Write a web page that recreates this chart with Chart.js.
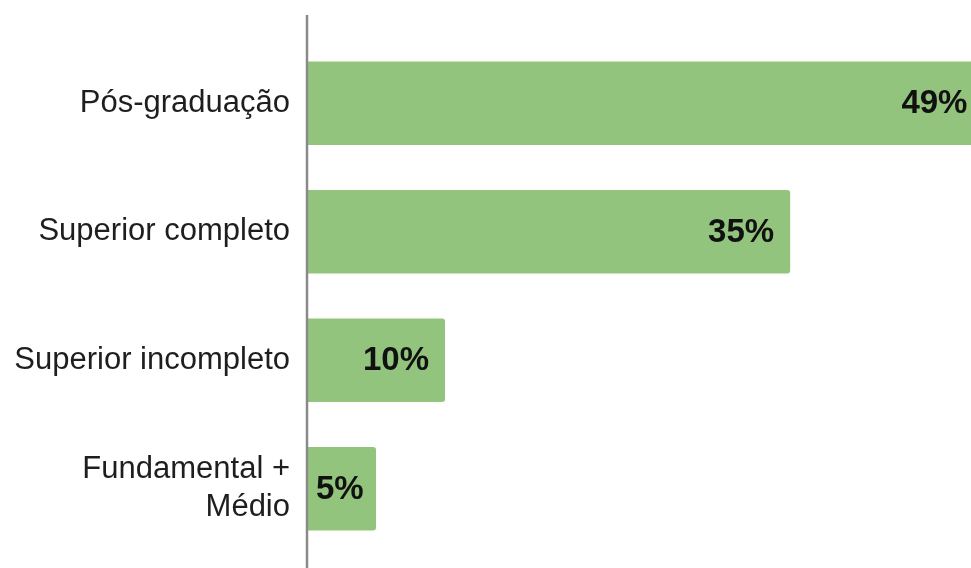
<!DOCTYPE html>
<html>
<head>
<meta charset="utf-8">
<script src="https://cdn.jsdelivr.net/npm/chart.js@4/dist/chart.umd.min.js"></script>
<style>
html,body{margin:0;padding:0;background:#fff;}
#wrap{width:971px;height:568px;position:relative;}
</style>
</head>
<body>
<div id="wrap"><canvas id="c"></canvas></div>
<script>
const categories = ['Pós-graduação', 'Superior completo', 'Superior incompleto', ['Fundamental +', 'Médio']];
const values = [49, 35, 10, 5];
const valueLabels = ['49%', '35%', '10%', '5%'];

const axisLinePlugin = {
  id: 'axisLine',
  afterDraw(chart) {
    const ctx = chart.ctx;
    const x = chart.chartArea.left;
    ctx.save();
    ctx.strokeStyle = '#8a8a8a';
    ctx.lineWidth = 2.5;
    ctx.beginPath();
    ctx.moveTo(x, 15);
    ctx.lineTo(x, chart.height);
    ctx.stroke();
    ctx.restore();
  }
};

const valueLabelPlugin = {
  id: 'valueLabels',
  afterDatasetsDraw(chart) {
    const ctx = chart.ctx;
    const meta = chart.getDatasetMeta(0);
    ctx.save();
    ctx.font = 'bold 33px "Liberation Sans", Arial, sans-serif';
    ctx.fillStyle = '#111111';
    ctx.textAlign = 'right';
    ctx.textBaseline = 'middle';
    meta.data.forEach((bar, i) => {
      const txt = valueLabels[i];
      const w = ctx.measureText(txt).width;
      const xr = Math.max(bar.x - 16, bar.base + 9 + w);
      ctx.fillText(txt, xr, bar.y + 1);
    });
    ctx.restore();
  }
};

new Chart(document.getElementById('c'), {
  type: 'bar',
  data: {
    labels: categories,
    datasets: [{
      data: values,
      backgroundColor: '#93c47d',
      borderWidth: 0,
      borderRadius: 3,
      barPercentage: 1,
      categoryPercentage: 0.648
    }]
  },
  options: {
    indexAxis: 'y',
    responsive: true,
    maintainAspectRatio: false,
    animation: false,
    layout: { padding: { top: 39, bottom: 15, left: 0, right: 0 } },
    plugins: { legend: { display: false }, tooltip: { enabled: false } },
    scales: {
      x: { display: false, min: 0, max: 48.1 },
      y: {
        grid: { display: false, drawTicks: false },
        border: { display: false },
        ticks: {
          padding: 17,
          color: '#1e1e1e',
          font: { family: '"Liberation Sans", Arial, sans-serif', size: 31, lineHeight: 1.23 }
        },
        afterFit(scale) {
          scale.width = 307;
          scale.paddingTop = 0;
          scale.paddingBottom = 0;
        }
      }
    }
  },
  plugins: [axisLinePlugin, valueLabelPlugin]
});
</script>
</body>
</html>
